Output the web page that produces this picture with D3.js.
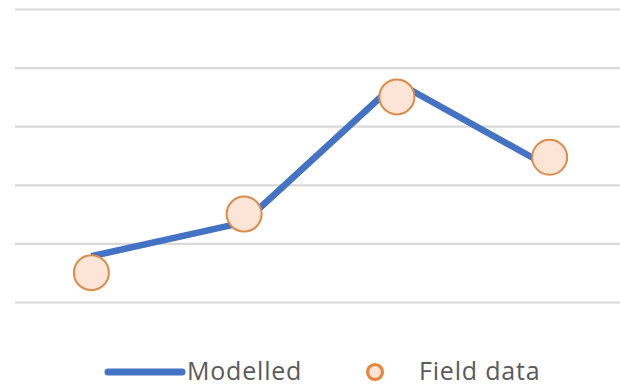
<!DOCTYPE html>
<html>
<head>
<meta charset="utf-8">
<script src="https://cdn.jsdelivr.net/npm/d3@7"></script>
<style>
  html, body { margin: 0; padding: 0; background: #ffffff; }
  svg { display: block; }
</style>
</head>
<body>
<svg id="chart" width="620" height="389"></svg>
<script>
// Sampling points along the profile
const sites = ["P1", "P2", "P3", "P4"];
// Model output at each point
const modelled = [7.8, 13.6, 37.5, 23.0];
// Measured values at each point
const fieldData = [5.0, 15.0, 35.0, 24.7];
// Horizontal gridline values
const yTicks = [0, 10, 20, 30, 40, 50];
// Legend entries
const legendLabels = ["Modelled", "Field data"];

const width = 620, height = 389;
const svg = d3.select("#chart");

const x = d3.scaleBand().domain(sites).range([15, 626]).padding(0);
const y = d3.scaleLinear().domain([0, 50]).range([302, 9]);
const cx = d => x(d) + x.bandwidth() / 2;

// Gridlines via an axis with full-width ticks and no labels
const grid = svg.append("g")
  .attr("transform", "translate(15,0)")
  .call(d3.axisRight(y).tickValues(yTicks).tickSize(605).tickFormat(""));
grid.select(".domain").remove();
grid.selectAll(".tick line")
  .attr("stroke", "#d9d9d9")
  .attr("stroke-width", 2.2);

// Modelled series
const line = d3.line()
  .x((d, i) => cx(sites[i]))
  .y(d => y(d));

svg.append("path")
  .datum(modelled)
  .attr("d", line)
  .attr("fill", "none")
  .attr("stroke", "#4472c4")
  .attr("stroke-width", 6.5)
  .attr("stroke-linejoin", "round")
  .attr("stroke-linecap", "butt");

// Field data markers
svg.append("g")
  .selectAll("circle")
  .data(fieldData)
  .join("circle")
  .attr("cx", (d, i) => cx(sites[i]))
  .attr("cy", d => y(d))
  .attr("r", 17.5)
  .attr("fill", "#fce4d6")
  .attr("stroke", "#dc8c48")
  .attr("stroke-width", 2);

// Legend
const legend = svg.append("g").attr("font-family", "'Open Sans', sans-serif")
  .attr("font-size", 25).attr("fill", "#5a5a5a")
  .attr("letter-spacing", 0.8);

legend.append("line")
  .attr("x1", 108).attr("x2", 182)
  .attr("y1", 372).attr("y2", 372)
  .attr("stroke", "#4472c4")
  .attr("stroke-width", 7)
  .attr("stroke-linecap", "round");
legend.append("text")
  .attr("x", 187).attr("y", 380)
  .text(legendLabels[0]);

legend.append("circle")
  .attr("cx", 375).attr("cy", 372).attr("r", 7.5)
  .attr("fill", "#fce4d6")
  .attr("stroke", "#e8873a")
  .attr("stroke-width", 3.2);
legend.append("text")
  .attr("x", 419).attr("y", 380)
  .text(legendLabels[1]);
</script>
</body>
</html>
